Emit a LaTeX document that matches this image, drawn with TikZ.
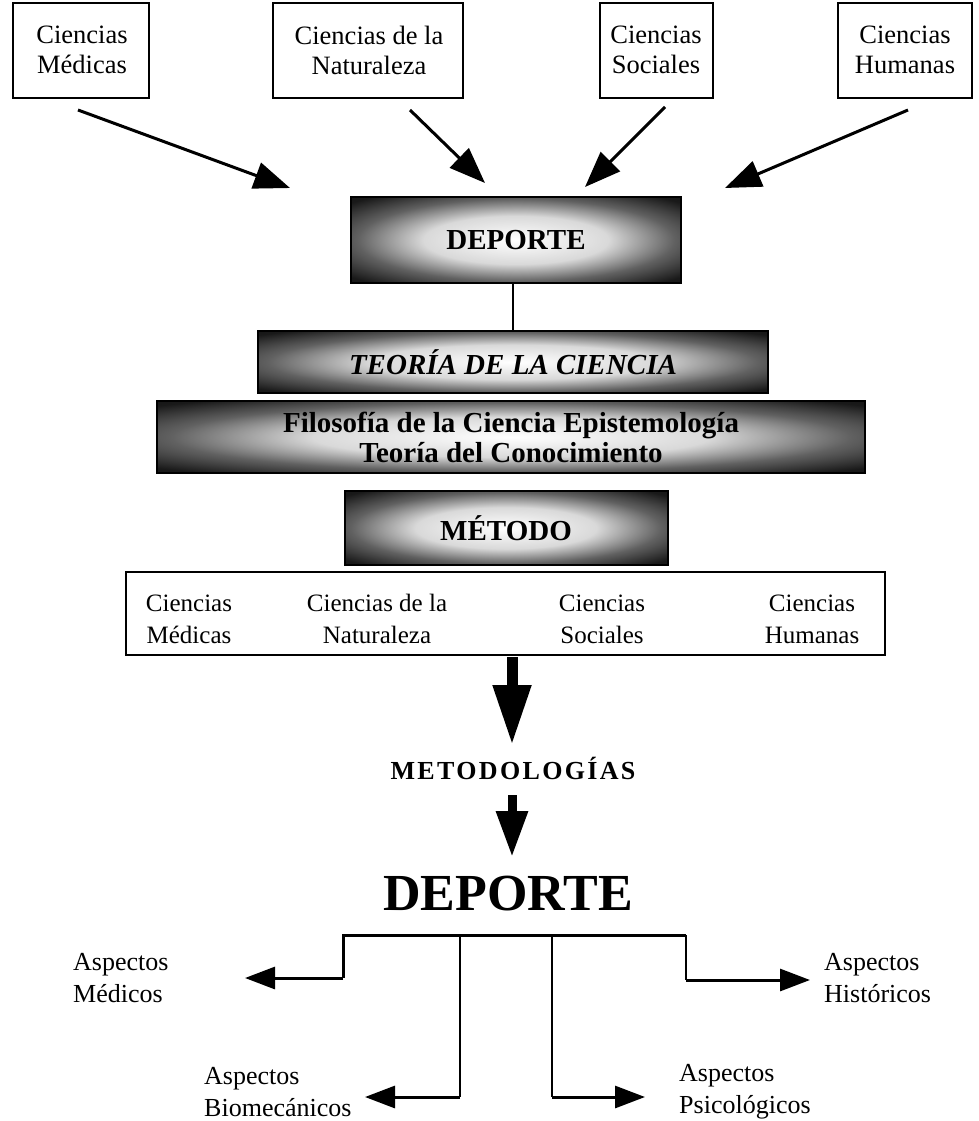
\documentclass[tikz,border=0pt]{standalone}
\usepackage{fontspec}
\setmainfont{Liberation Serif}
\newfontfamily\spacedfont{Liberation Serif}[LetterSpace=9]
\usetikzlibrary{arrows.meta}

% dark frame with a pale centre behind the text
\pgfdeclareradialshading{grain}{\pgfpoint{0bp}{0bp}}{%
  color(0bp)=(white); color(14bp)=(black!15); color(24bp)=(black!62);
  color(33bp)=(black!90); color(50bp)=(black)}

\tikzset{
  cbox/.style={draw, line width=2.4pt, inner sep=0pt},
  ctext/.style={align=center, inner sep=0pt, font=\fontsize{26.5}{30}\selectfont},
  dbox/.style={draw, line width=2pt, shading=grain, align=center, inner sep=0pt,
    font=\bfseries\fontsize{29}{30}\selectfont},
  lbl/.style={align=center, inner sep=0pt, font=\fontsize{25}{32}\selectfont},
  asp/.style={align=left, inner sep=0pt, anchor=west, font=\fontsize{26}{32}\selectfont},
  feed/.style={line width=3pt, -{Triangle[length=36pt,width=27pt]}},
  side/.style={line width=3pt, -{Triangle[length=30pt,width=22pt]}},
  tie/.style={line width=2pt},
  bigdown/.style={line width=11pt, -{Triangle[length=60pt,width=36pt]}},
  smalldown/.style={line width=9pt, -{Triangle[length=46pt,width=30pt]}},
}

\begin{document}
\begin{tikzpicture}[x=1pt, y=-1pt]
\useasboundingbox (0,0) rectangle (979,1121);

% source disciplines
\node[cbox, minimum width=136pt, minimum height=95pt] (tb1) at (81,50.5) {};
\node[cbox, minimum width=190pt, minimum height=95pt] (tb2) at (368,50.5) {};
\node[cbox, minimum width=113pt, minimum height=95pt] (tb3) at (656.5,50.5) {};
\node[cbox, minimum width=134pt, minimum height=95pt] (tb4) at (905,50.5) {};
\node[ctext] (t1) at (82,50) {Ciencias\\Médicas};
\node[ctext] (t2) at (369,50) {Ciencias de la\\Naturaleza};
\node[ctext] (t3) at (656,50) {Ciencias\\Sociales};
\node[ctext] (t4) at (905,50) {Ciencias\\Humanas};

% converging arrows
\coordinate (s1) at (78,110);  \coordinate (e1) at (290,188);
\coordinate (s2) at (410,110); \coordinate (e2) at (485,183);
\coordinate (s3) at (665,107); \coordinate (e3) at (585,187);
\coordinate (s4) at (908,110); \coordinate (e4) at (725,188);
\draw[feed] (s1) -- (e1);
\draw[feed] (s2) -- (e2);
\draw[feed] (s3) -- (e3);
\draw[feed] (s4) -- (e4);

% stacked dark frames
\node[dbox, minimum width=330pt, minimum height=86pt] (dep) at (516,240) {DEPORTE};
\node[dbox, minimum width=510pt, minimum height=62pt] (teo) at (513,362) {\itshape TEORÍA DE LA CIENCIA};
\node[dbox, minimum width=708pt, minimum height=72pt] (filo) at (511,437)
  {Filosofía de la Ciencia Epistemología\\Teoría del Conocimiento};
\node[dbox, minimum width=323pt, minimum height=74pt] (met) at (506,528) {MÉTODO};
\draw[tie] (dep.south -| teo.north) -- (teo.north);

% row of disciplines
\node[draw, line width=2.4pt, minimum width=759pt, minimum height=83pt, inner sep=0pt] (row) at (505.5,613.5) {};
\node[lbl] (r1) at (189,619) {Ciencias\\Médicas};
\node[lbl] (r2) at (377,619) {Ciencias de la\\Naturaleza};
\node[lbl] (r3) at (602,619) {Ciencias\\Sociales};
\node[lbl] (r4) at (812,619) {Ciencias\\Humanas};

% methodologies
\node[inner sep=0pt, font=\spacedfont\bfseries\fontsize{26}{28}\selectfont] (meto) at (513,768) {METODOLOGÍAS};
\coordinate (d1s) at (512,657); \coordinate (d1e) at (512,745);
\draw[bigdown] (d1s) -- (d1e);
\coordinate (d2s) at (512,795); \coordinate (d2e) at (512,857);
\draw[smalldown] (d2s) -- (d2e);

\node[inner sep=0pt, font=\bfseries\fontsize{52}{56}\selectfont] (sport) at (508,894) {DEPORTE};

% branching bracket
\coordinate (bl) at (343,935);  \coordinate (br) at (686,935);
\coordinate (bi1) at (460,936); \coordinate (bi2) at (552,936);
\coordinate (ll) at (343,978);  \coordinate (lt) at (245,978);
\coordinate (rl) at (686,980);  \coordinate (rt) at (810,980);
\coordinate (m1) at (460,1097); \coordinate (m1t) at (365,1097);
\coordinate (m2) at (552,1097); \coordinate (m2t) at (645,1097);
\draw[line width=3pt] (ll) -- (bl) -- (br);
\draw[tie] (br) -- (rl);
\draw[tie] (bi1) -- (m1);
\draw[tie] (bi2) -- (m2);
\draw[side] (ll) -- (lt);
\draw[side] (rl) -- (rt);
\draw[side] (m1) -- (m1t);
\draw[side] (m2) -- (m2t);

% aspects
\node[asp] (am) at (73,978) {Aspectos\\Médicos};
\node[asp] (ah) at (824,978) {Aspectos\\Históricos};
\node[asp] (ab) at (204,1092) {Aspectos\\Biomecánicos};
\node[asp] (ap) at (679,1092) {Aspectos\\Psicológicos};
\end{tikzpicture}
\end{document}
